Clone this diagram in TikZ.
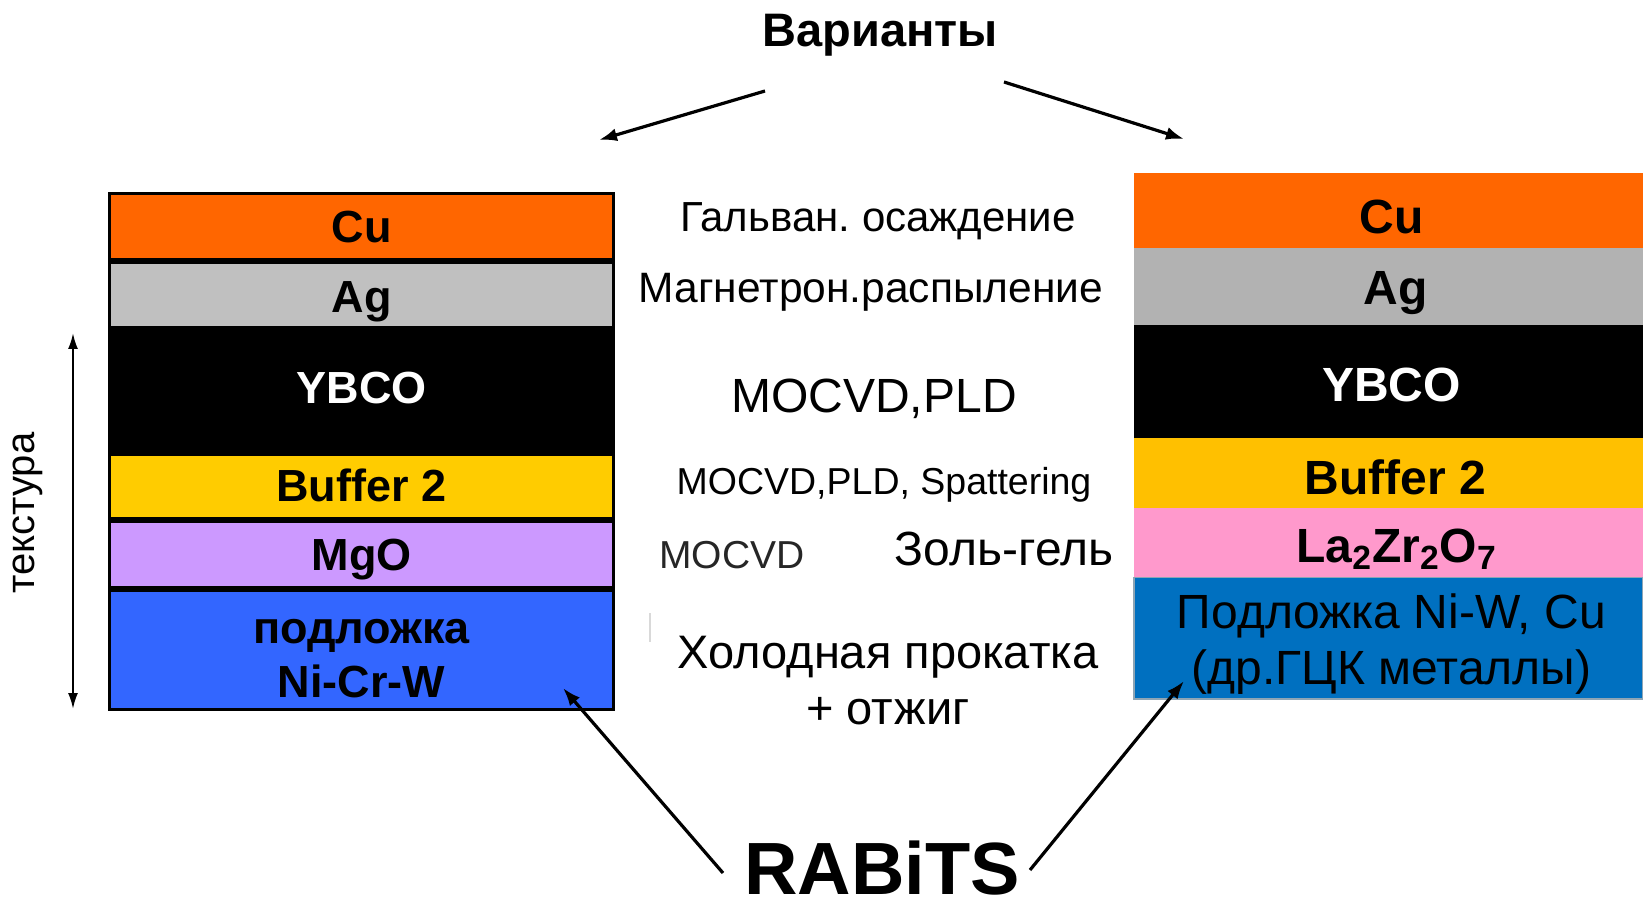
\documentclass[tikz,border=0pt]{standalone}
\usepackage{fontspec}
\setmainfont{Liberation Sans}
\usepackage{tikz}
\usetikzlibrary{arrows.meta}
\definecolor{cuorange}{HTML}{FF6600}
\definecolor{aggrayL}{HTML}{C0C0C0}
\definecolor{aggrayR}{HTML}{B2B2B2}
\definecolor{bufyellowL}{HTML}{FFCC00}
\definecolor{bufyellowR}{HTML}{FFC000}
\definecolor{mgoviolet}{HTML}{CC99FF}
\definecolor{lzopink}{HTML}{FF99CC}
\definecolor{subblueL}{HTML}{3366FF}
\definecolor{subblueR}{HTML}{0070C0}
\definecolor{subedge}{HTML}{8EA5B5}
\frenchspacing

\begin{document}
\begin{tikzpicture}[x=0.5pt,y=-0.5pt,
  lyr/.style={draw=black,line width=1.5pt},
  lblL/.style={inner sep=0pt,font=\fontsize{22.5}{27}\selectfont\bfseries},
  lblR/.style={inner sep=0pt,font=\fontsize{24}{28}\selectfont\bfseries},
  mid/.style={inner sep=0pt,font=\fontsize{21}{24}\selectfont},
  arr/.style={line width=1.6pt,-{Latex[length=9pt,width=6.5pt]}}]
  \useasboundingbox (0,0) rectangle (1643,898);
  % left stack
  \foreach \ya/\yb/\col in {192/261/cuorange,261/329/aggrayL,329/452.5/black,
      452.5/520/bufyellowL,520/589/mgoviolet,589/711/subblueL}
    \filldraw[lyr,fill=\col] (109.5,{\ya+1.5}) rectangle (613.5,{\yb-1.5});
  \node[lblL] (cuL) at (361.5,227) {Cu};
  \node[lblL] (agL) at (361.5,302) {Ag};
  \node[lblL,text=white] (ybcoL) at (361.5,388) {YBCO};
  \node[lblL] (bufL) at (361.5,485) {Buffer 2};
  \node[lblL] (mgoL) at (361.5,560) {MgO};
  \node[lblL,align=center] (subL) at (361.5,659) {подложка\\Ni-Cr-W};
  % right stack
  \foreach \ya/\yb/\col in {173/248.3/cuorange,248.3/324.8/aggrayR,324.8/438/black,
      438/508.2/bufyellowR,508.2/577.5/lzopink}
    \fill[\col] (1134,\ya) rectangle (1643,\yb);
  \filldraw[draw=subedge,line width=0.75pt,fill=subblueR] (1134,577.5) rectangle (1643,699);
  \node[lblR] (cuR) at (1391.5,217) {Cu};
  \node[lblR] (agR) at (1395.5,293) {Ag};
  \node[lblR,text=white] (ybcoR) at (1391.5,384.5) {YBCO};
  \node[lblR] (bufR) at (1395.5,477) {Buffer 2};
  \node[lblR] (lzoR) at (1396.5,549) {La\textsubscript{2}Zr\textsubscript{2}O\textsubscript{7}};
  \node[lblR,align=center,font=\fontsize{24}{28.25}\selectfont] (subR) at (1391.5,644)
    {Подложка Ni-W, Cu\\(др.ГЦК металлы)};
  % methods
  \node[mid] (galv) at (878,221) {Гальван. осаждение};
  \node[mid,font=\fontsize{21.25}{24}\selectfont] (magn) at (871,292) {Магнетрон.распыление};
  \node[mid,font=\fontsize{24}{28}\selectfont] (mpld) at (874,399) {MOCVD,PLD};
  \node[mid,font=\fontsize{18.75}{22}\selectfont] (mspt) at (884,485) {MOCVD,PLD, Spattering};
  \node[mid,font=\fontsize{19.5}{22}\selectfont,text=black!85] (moc) at (732,555) {MOCVD};
  \node[mid,font=\fontsize{24}{28}\selectfont] (zol) at (1004,549) {Золь-гель};
  \node[mid,align=center,font=\fontsize{23.5}{28}\selectfont] (hol) at (888,681)
    {Холодная прокатка\\+ отжиг};
  \draw[black!15,line width=0.6pt] (650,613) -- (650,642);
  % titles
  \node[inner sep=0pt,font=\fontsize{23.5}{28}\selectfont\bfseries] (var) at (880,35) {Варианты};
  \node[inner sep=0pt,anchor=base,font=\fontsize{37}{40}\selectfont\bfseries] (rab) at (882,894) {RABiTS};
  \node[inner sep=0pt,rotate=90,font=\fontsize{20}{24}\selectfont] (tex) at (28,513) {текстура};
  % arrows
  \coordinate (vL) at (765,91);   \coordinate (vLt) at (599,140);
  \coordinate (vR) at (1004,82);  \coordinate (vRt) at (1184,139);
  \coordinate (rL) at (723,873);  \coordinate (rLt) at (563,688);
  \coordinate (rR) at (1030,870); \coordinate (rRt) at (1184,681);
  \coordinate (txT) at (73,333);  \coordinate (txB) at (73,709);
  \draw[arr] (vL) -- (vLt);
  \draw[arr] (vR) -- (vRt);
  \draw[arr] (rL) -- (rLt);
  \draw[arr] (rR) -- (rRt);
  \draw[line width=1.1pt,{Latex[length=8pt,width=5pt]}-{Latex[length=8pt,width=5pt]}] (txT) -- (txB);
\end{tikzpicture}
\end{document}
